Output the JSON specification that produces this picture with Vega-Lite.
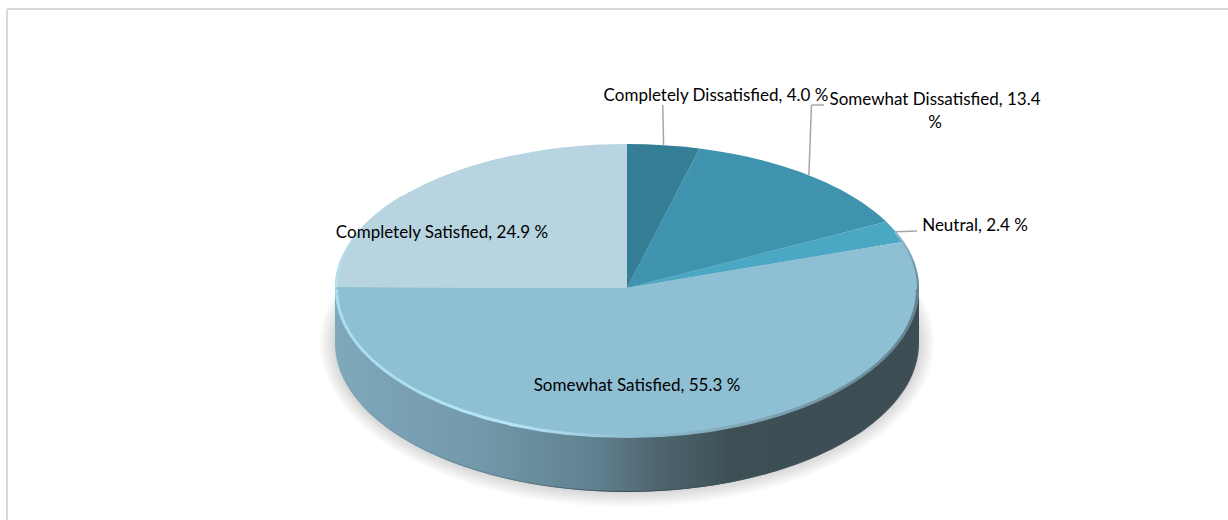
{
  "$schema": "https://vega.github.io/schema/vega-lite/v6.json",
  "width": 1228,
  "height": 520,
  "padding": 0,
  "autosize": "none",
  "background": "#ffffff",
  "config": {"view": {"stroke": null}},
  "data": {
    "values": [
      {"order": 1, "category": "Completely Dissatisfied", "value": 4.0},
      {"order": 2, "category": "Somewhat Dissatisfied", "value": 13.4},
      {"order": 3, "category": "Neutral", "value": 2.4},
      {"order": 4, "category": "Somewhat Satisfied", "value": 55.3},
      {"order": 5, "category": "Completely Satisfied", "value": 24.9}
    ]
  },
  "transform": [
    {"window": [{"op": "sum", "field": "value", "as": "cum"}], "sort": [{"field": "order"}], "frame": [null, 0]},
    {"calculate": "(datum.cum - datum.value) * 2 * PI / 100", "as": "a0"},
    {"calculate": "datum.cum * 2 * PI / 100", "as": "a1"},
    {"calculate": "(datum.a0 + datum.a1) / 2", "as": "mid"},
    {"calculate": "sin(datum.mid)", "as": "edgeX"},
    {"calculate": "cos(datum.mid)", "as": "edgeY"},
    {"calculate": "'M0,0L' + round(2920 * sin(datum.a0)) / 10 + ',' + round(-1440 * cos(datum.a0)) / 10 + 'A292,144 0 ' + (datum.value > 50 ? 1 : 0) + ' 1 ' + round(2920 * sin(datum.a1)) / 10 + ',' + round(-1440 * cos(datum.a1)) / 10 + 'Z'", "as": "wedge"},
    {"calculate": "datum.category + ', ' + format(datum.value, '.1f') + (datum.category === 'Somewhat Dissatisfied' ? '\\n' : ' ') + '%'", "as": "label"},
    {"calculate": "{'Completely Dissatisfied': 0.3048, 'Somewhat Dissatisfied': 1.0548, 'Neutral': 1.1918, 'Somewhat Satisfied': 0.0342, 'Completely Satisfied': -0.6336}[datum.category]", "as": "labelX"},
    {"calculate": "{'Completely Dissatisfied': 1.3368, 'Somewhat Dissatisfied': 1.3056, 'Neutral': 0.4271, 'Somewhat Satisfied': -0.684, 'Completely Satisfied': 0.3785}[datum.category]", "as": "labelY"},
    {"calculate": "{'Completely Dissatisfied': 0.1223, 'Somewhat Dissatisfied': 0.6318, 'Neutral': 0.9932}[datum.category]", "as": "leaderX"},
    {"calculate": "{'Completely Dissatisfied': 1.2708, 'Somewhat Dissatisfied': 1.2708, 'Neutral': 0.3958}[datum.category]", "as": "leaderY"}
  ],
  "layer": [
    {
      "description": "Chart frame, open at the right and bottom",
      "data": {"values": [{}]},
      "mark": {"type": "rule", "color": "#d9d9d9", "strokeWidth": 2},
      "encoding": {
        "x": {"datum": -2.1233, "type": "quantitative", "scale": {"domain": [-2.1473, 2.0582], "nice": false, "zero": false}, "axis": null},
        "y": {"datum": 1.9375, "type": "quantitative", "scale": {"domain": [-1.6111, 2], "nice": false, "zero": false}, "axis": null},
        "y2": {"datum": -1.6111}
      }
    },
    {
      "data": {"values": [{}]},
      "mark": {"type": "rule", "color": "#d9d9d9", "strokeWidth": 2},
      "encoding": {
        "x": {"datum": -2.1233, "type": "quantitative", "axis": null},
        "x2": {"datum": 2.0582},
        "y": {"datum": 1.9375, "type": "quantitative", "axis": null}
      }
    },
    {
      "description": "Soft ground shadow built from stacked, slowly growing ellipses",
      "data": {"values": [{"grow": 15}, {"grow": 13}, {"grow": 11}, {"grow": 9}, {"grow": 7}, {"grow": 5}, {"grow": 3}, {"grow": 1}]},
      "transform": [
        {"calculate": "'M' + (-292 - datum.grow) + ',55A' + (292 + datum.grow) + ',' + (149 + datum.grow) + ' 0 1 1 ' + (292 + datum.grow) + ',55A' + (292 + datum.grow) + ',' + (149 + datum.grow) + ' 0 1 1 ' + (-292 - datum.grow) + ',55Z'", "as": "halo"},
        {"calculate": "0", "as": "centre"}
      ],
      "mark": {"type": "point", "filled": true, "opacity": 0.018, "size": 4, "fill": "#000000"},
      "encoding": {
        "x": {"field": "centre", "type": "quantitative", "axis": null},
        "y": {"field": "centre", "type": "quantitative", "axis": null},
        "shape": {"field": "halo", "type": "nominal", "scale": null}
      }
    },
    {
      "description": "Side wall of the pie",
      "data": {"values": [{}]},
      "mark": {
        "type": "point", "filled": true, "opacity": 1, "size": 4,
        "shape": "M-292,0L-292,55A292,149 0 0 0 292,55L292,0Z",
        "fill": {
          "gradient": "linear", "x1": 0, "y1": 0, "x2": 1, "y2": 0,
          "stops": [
            {"offset": 0, "color": "#7fa8bb"},
            {"offset": 0.25, "color": "#7299aa"},
            {"offset": 0.45, "color": "#5f808e"},
            {"offset": 0.55, "color": "#4f666f"},
            {"offset": 0.68, "color": "#3d4f55"},
            {"offset": 1, "color": "#3c4d53"}
          ]
        }
      },
      "encoding": {
        "x": {"datum": 0, "type": "quantitative", "axis": null},
        "y": {"datum": 0, "type": "quantitative", "axis": null}
      }
    },
    {
      "description": "Dark lower edge of the side wall",
      "data": {"values": [{}]},
      "mark": {
        "type": "point", "filled": false, "opacity": 1, "size": 4, "strokeWidth": 1, "fill": null,
        "shape": "M-291,55A291,148.5 0 0 0 291,55",
        "stroke": {
          "gradient": "linear", "x1": 0, "y1": 0, "x2": 1, "y2": 0,
          "stops": [
            {"offset": 0, "color": "#7fa8bb"},
            {"offset": 0.3, "color": "#5b7a88"},
            {"offset": 0.5, "color": "#3d4f57"},
            {"offset": 1, "color": "#46575d"}
          ]
        }
      },
      "encoding": {
        "x": {"datum": 0, "type": "quantitative", "axis": null},
        "y": {"datum": 0, "type": "quantitative", "axis": null}
      }
    },
    {
      "description": "Lower half of the top face, slightly deeper than the upper half",
      "data": {"values": [{}]},
      "mark": {
        "type": "point", "filled": true, "opacity": 1, "size": 4, "fill": "#8fbfd3",
        "shape": "M-292,0A292,149 0 0 0 292,0Z"
      },
      "encoding": {
        "x": {"datum": 0, "type": "quantitative", "axis": null},
        "y": {"datum": 0, "type": "quantitative", "axis": null}
      }
    },
    {
      "description": "Pie wedges, drawn from the percentages",
      "transform": [{"calculate": "0", "as": "centre"}],
      "mark": {"type": "point", "filled": true, "opacity": 1, "size": 4},
      "encoding": {
        "x": {"field": "centre", "type": "quantitative", "axis": null},
        "y": {"field": "centre", "type": "quantitative", "axis": null},
        "shape": {"field": "wedge", "type": "nominal", "scale": null},
        "color": {
          "field": "category", "type": "nominal", "legend": null,
          "scale": {
            "domain": ["Completely Dissatisfied", "Somewhat Dissatisfied", "Neutral", "Somewhat Satisfied", "Completely Satisfied"],
            "range": ["#357f96", "#3f93ae", "#4aa8c4", "#8fbfd3", "#b8d4e0"]
          }
        }
      }
    },
    {
      "description": "Bevel along the front rim",
      "data": {"values": [{}]},
      "mark": {
        "type": "point", "filled": false, "opacity": 1, "size": 4, "strokeWidth": 3, "fill": null,
        "shape": "M-290.5,1A290.5,147.5 0 0 0 290.5,1",
        "stroke": {
          "gradient": "linear", "x1": 0, "y1": 0, "x2": 1, "y2": 0,
          "stops": [
            {"offset": 0, "color": "#a8dcef"},
            {"offset": 0.3, "color": "#b6e6f6"},
            {"offset": 0.5, "color": "#8fbfd3"},
            {"offset": 0.72, "color": "#7ea5b5"},
            {"offset": 1, "color": "#64838f"}
          ]
        }
      },
      "encoding": {
        "x": {"datum": 0, "type": "quantitative", "axis": null},
        "y": {"datum": 0, "type": "quantitative", "axis": null}
      }
    },
    {
      "description": "Bevel along the upper left rim",
      "data": {"values": [{}]},
      "mark": {
        "type": "point", "filled": false, "opacity": 1, "size": 4, "strokeWidth": 2.5, "fill": null,
        "shape": "M-291,0A291,143 0 0 1 -225,-91",
        "stroke": {
          "gradient": "linear", "x1": 0, "y1": 1, "x2": 0, "y2": 0,
          "stops": [
            {"offset": 0, "color": "#b4e0f1"},
            {"offset": 1, "color": "#b8d4e0"}
          ]
        }
      },
      "encoding": {
        "x": {"datum": 0, "type": "quantitative", "axis": null},
        "y": {"datum": 0, "type": "quantitative", "axis": null}
      }
    },
    {
      "description": "Shaded bevel along the upper right rim",
      "data": {"values": [{}]},
      "mark": {
        "type": "point", "filled": false, "opacity": 1, "size": 4, "strokeWidth": 2, "fill": null,
        "shape": "M291,1A291,143 0 0 0 268,-56",
        "stroke": {
          "gradient": "linear", "x1": 0, "y1": 1, "x2": 0, "y2": 0,
          "stops": [
            {"offset": 0, "color": "#64838f"},
            {"offset": 1, "color": "#8fbfd3"}
          ]
        }
      },
      "encoding": {
        "x": {"datum": 0, "type": "quantitative", "axis": null},
        "y": {"datum": 0, "type": "quantitative", "axis": null}
      }
    },
    {
      "description": "Leader lines from each outer wedge to its label",
      "transform": [{"filter": "isValid(datum.leaderX)"}],
      "mark": {"type": "rule", "color": "#a6a6a6", "strokeWidth": 1.5},
      "encoding": {
        "x": {"field": "edgeX", "type": "quantitative", "axis": null},
        "y": {"field": "edgeY", "type": "quantitative", "axis": null},
        "x2": {"field": "leaderX"},
        "y2": {"field": "leaderY"}
      }
    },
    {
      "description": "Elbow of the Somewhat Dissatisfied leader",
      "data": {"values": [{}]},
      "mark": {"type": "rule", "color": "#a6a6a6", "strokeWidth": 1.5},
      "encoding": {
        "x": {"datum": 0.6318, "type": "quantitative", "axis": null},
        "x2": {"datum": 0.6747},
        "y": {"datum": 1.2708, "type": "quantitative", "axis": null}
      }
    },
    {
      "description": "Data labels",
      "mark": {
        "type": "text", "font": "Lato", "fontSize": 17, "color": "#000000",
        "align": "center", "baseline": "middle", "lineBreak": "\n", "lineHeight": 23
      },
      "encoding": {
        "x": {"field": "labelX", "type": "quantitative", "axis": null},
        "y": {"field": "labelY", "type": "quantitative", "axis": null},
        "text": {"field": "label", "type": "nominal"}
      }
    }
  ]
}
